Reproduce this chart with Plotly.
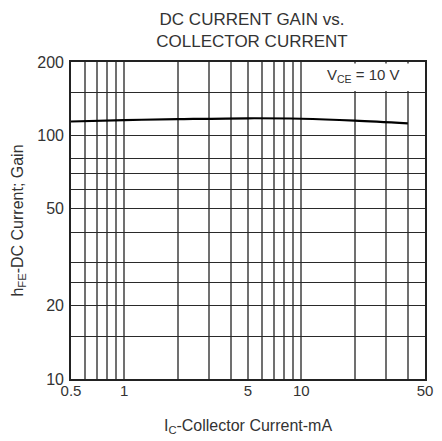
import plotly.graph_objects as go
import numpy as np

# Data
ic_ma = [0.5, 1, 2, 5, 10, 20, 40]
hfe = [114, 115.5, 116.5, 117.5, 117, 115, 112]

x_tickvals = [0.5, 0.6, 0.7, 0.8, 0.9, 1, 2, 3, 4, 5, 6, 7, 8, 9, 10, 20, 30, 40, 50]
x_ticktext = ["0.5", "", "", "", "", "1", "", "", "", "5", "", "", "", "", "10", "", "", "", "50"]
y_tickvals = [10, 15, 20, 25, 30, 40, 50, 60, 70, 80, 100, 150, 200]
y_ticktext = ["10", "", "20", "", "", "", "50", "", "", "", "100", "", "200"]

FONT = "Liberation Sans, Arial, sans-serif"

fig = go.Figure()
fig.add_trace(go.Scatter(x=ic_ma, y=hfe, mode="lines",
                         line=dict(color="black", width=2.2, shape="spline"),
                         showlegend=False, hoverinfo="skip"))

fig.update_layout(
    width=442, height=441,
    margin=dict(l=71, r=9, t=62, b=57),
    paper_bgcolor="white", plot_bgcolor="white",
    font=dict(family=FONT, color="#333", size=16),
    title=dict(text="DC CURRENT GAIN vs.<br>COLLECTOR CURRENT",
               x=(71 + 433) / 2 / 442, xanchor="center",
               y=1 - 25 / 441, yanchor="middle",
               font=dict(size=17, color="#333")),
    xaxis=dict(type="log", range=[np.log10(0.5), np.log10(50)],
               tickvals=x_tickvals, ticktext=x_ticktext,
               showgrid=True, gridcolor="#707070", gridwidth=1.6,
               showline=True, mirror=True, linecolor="#222", linewidth=1.6,
               ticks="", zeroline=False, ticklabelstandoff=-3,
               tickfont=dict(size=15, color="#333"),
               title=dict(text="I<sub>C</sub>-Collector Current-mA", standoff=22,
                          font=dict(size=16, color="#333"))),
    yaxis=dict(type="log", range=[1, np.log10(200)],
               tickvals=y_tickvals, ticktext=y_ticktext,
               showgrid=True, gridcolor="#2a2a2a", gridwidth=1.3,
               showline=True, mirror=True, linecolor="#222", linewidth=1.6,
               ticks="", zeroline=False, ticklabelstandoff=2,
               tickfont=dict(size=16, color="#333"),
               title=dict(text="h<sub>FE</sub>-DC Current; Gain", standoff=10,
                          font=dict(size=16, color="#333"))),
)

# white label cell covering minor grid in top-right band
fig.add_shape(type="rect", xref="x", yref="y",
              x0=10.3, x1=48.8, y0=152, y1=197,
              fillcolor="white", line=dict(width=0), layer="between")

fig.add_annotation(text="V<sub>CE</sub> = 10 V", xref="paper", yref="paper",
                   x=(370 - 71) / 362, y=(384 - 76) / 322,
                   xanchor="center", yanchor="middle", showarrow=False,
                   font=dict(size=15, color="#333"))

fig.write_html("out.html", config={"displayModeBar": False},
               post_script="document.body.style.margin='0';")
